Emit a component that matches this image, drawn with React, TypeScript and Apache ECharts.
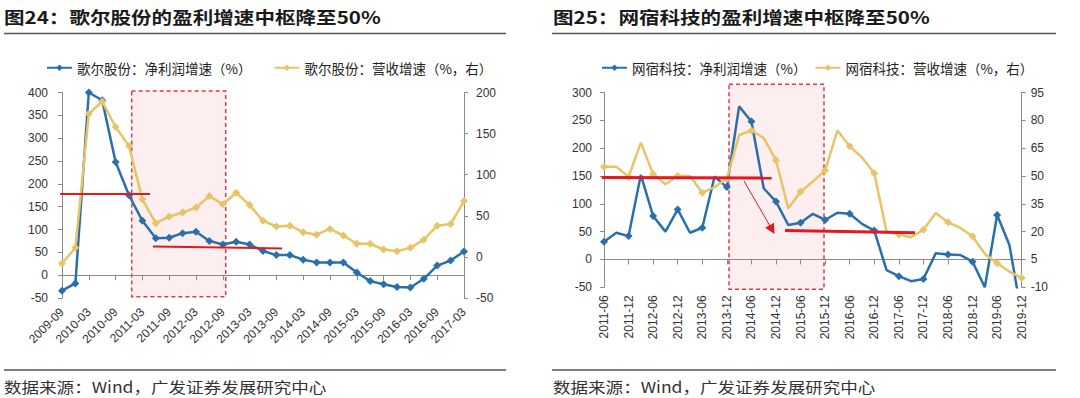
import React, { useEffect, useRef } from 'react';
import * as echarts from 'echarts';

// ---------- data ----------
const goerCategories = [
  '2009-09', '2009-12', '2010-03', '2010-06', '2010-09', '2010-12', '2011-03', '2011-06',
  '2011-09', '2011-12', '2012-03', '2012-06', '2012-09', '2012-12', '2013-03', '2013-06',
  '2013-09', '2013-12', '2014-03', '2014-06', '2014-09', '2014-12', '2015-03', '2015-06',
  '2015-09', '2015-12', '2016-03', '2016-06', '2016-09', '2016-12', '2017-03',
];
const goerProfitGrowth = [
  -34, -18, 400, 383, 248, 175, 119, 81, 82, 92, 95, 75, 67, 73, 67, 53,
  44, 44, 34, 28, 28, 28, 6, -13, -20, -26, -27, -8, 21, 32, 52,
];
const goerRevenueGrowth = [
  -8, 11, 174, 189, 158, 135, 70, 41, 49, 54, 60, 74, 64, 78, 63, 44,
  37, 38, 30, 27, 34, 26, 16, 16, 9, 7, 11, 21, 38, 40, 68,
];

const wangsuCategories = [
  '2011-06', '2011-09', '2011-12', '2012-03', '2012-06', '2012-09', '2012-12', '2013-03',
  '2013-06', '2013-09', '2013-12', '2014-03', '2014-06', '2014-09', '2014-12', '2015-03',
  '2015-06', '2015-09', '2015-12', '2016-03', '2016-06', '2016-09', '2016-12', '2017-03',
  '2017-06', '2017-09', '2017-12', '2018-03', '2018-06', '2018-09', '2018-12', '2019-03',
  '2019-06', '2019-09', '2019-12',
];
const wangsuProfitGrowth = [
  32, 48, 42, 152, 78, 50, 90, 48, 57, 149, 130, 275, 248, 128, 104, 62,
  66, 82, 71, 84, 82, 64, 52, -19, -30, -39, -35, 11, 9, 8, -4, -50,
  80, 26, -100,
];
const wangsuRevenueGrowth = [
  55, 55, 49.5, 68, 51, 45.5, 50, 50, 41, 44, 48.5, 72, 74.5, 70.5, 58.5, 32.5,
  41.5, 47, 53, 74.5, 66, 60, 51.5, 20, 18.5, 17, 21, 30, 25, 22, 17.5, 8,
  3, -1.5, -5,
];

const goerNames = ['歌尔股份：净利润增速（%）', '歌尔股份：营收增速（%，右）'];
const wangsuNames = ['网宿科技：净利润增速（%）', '网宿科技：营收增速（%，右）'];
const titles = ['图24：歌尔股份的盈利增速中枢降至50%', '图25：网宿科技的盈利增速中枢降至50%'];
const sourceText = '数据来源：Wind，广发证券发展研究中心';

// ---------- styles ----------
const BLUE = '#2a6fad';
const GOLD = '#e7c466';
const AXIS = '#8a8a8a';
const RED = '#e5181f';
const LATIN = '"Liberation Sans", Arial, sans-serif';
const CJK = '"Noto Sans CJK SC", "Liberation Sans", sans-serif';

const labelStyle = { color: '#333', fontSize: 12, fontFamily: LATIN };

function labelAxis(gridIndex: number, data: string[], rotate: number, margin: number) {
  return {
    type: 'category', gridIndex, data, boundaryGap: false, position: 'bottom',
    axisLine: { show: false, onZero: false },
    axisTick: { show: false },
    splitLine: { show: false },
    axisLabel: { ...labelStyle, interval: 1, rotate, margin },
  };
}
function zeroAxis(gridIndex: number, data: string[]) {
  return {
    type: 'category', gridIndex, data, boundaryGap: false, position: 'bottom',
    axisLine: { show: true, onZero: true, lineStyle: { color: AXIS, width: 1 } },
    axisTick: { show: true, interval: 1, length: 5, lineStyle: { color: AXIS } },
    axisLabel: { show: false },
    splitLine: { show: false },
  };
}
function valueAxis(gridIndex: number, position: string, min: number, max: number, interval: number, margin: number) {
  return {
    type: 'value', gridIndex, position, min, max, interval,
    axisLine: { show: true, onZero: false, lineStyle: { color: AXIS, width: 1 } },
    axisTick: { show: true, length: 4, lineStyle: { color: AXIS } },
    splitLine: { show: false },
    axisLabel: { ...labelStyle, margin },
  };
}
function lineSeries(name: string, data: number[], color: string, xAxisIndex: number, yAxisIndex: number) {
  return {
    name, type: 'line', data, xAxisIndex, yAxisIndex,
    symbol: 'diamond', symbolSize: 8, clip: true,
    lineStyle: { color, width: 2.5 },
    itemStyle: { color },
  };
}
function legend(names: string[], left: number, itemGap: number) {
  return {
    data: names, left, top: 56, itemWidth: 25, itemHeight: 8, itemGap,
    textStyle: { fontSize: 13.5, fontFamily: CJK, color: '#222' },
  };
}
function rule(x1: number, x2: number, y: number) {
  return { type: 'line', shape: { x1, y1: y, x2, y2: y }, style: { stroke: '#555', lineWidth: 1.5 } };
}
function redLine(x1: number, y1: number, x2: number, y2: number, w: number) {
  return { type: 'line', z: 100, shape: { x1, y1, x2, y2 }, style: { stroke: RED, lineWidth: w } };
}
function dashedBox(x: number, y: number, width: number, height: number) {
  return {
    type: 'rect', z: 0, shape: { x, y, width, height },
    style: { fill: 'rgba(248, 205, 212, 0.35)', stroke: '#e03a44', lineWidth: 1.5, lineDash: [4, 3] },
  };
}
function titleText(x: number, text: string) {
  return {
    type: 'text', x, y: 16, scaleX: 1.21,
    style: { text, fontSize: 17, fontWeight: 'bold', fontFamily: CJK, fill: '#1a1a1a', verticalAlign: 'middle', align: 'left' },
  };
}
function sourceLabel(x: number) {
  return {
    type: 'text', x, y: 387, scaleX: 1.17,
    style: { text: sourceText, fontSize: 15, fontFamily: CJK, fill: '#333', verticalAlign: 'middle', align: 'left' },
  };
}

export default function App() {
  const ref = useRef<HTMLDivElement>(null);
  useEffect(() => {
    document.body.style.margin = '0';
    const chart = echarts.init(ref.current as HTMLDivElement, null, { renderer: 'svg' });
    chart.setOption({
      animation: false,
      backgroundColor: '#ffffff',
      grid: [
        { left: 62, top: 92.5, width: 402, height: 205.5 },
        { left: 604, top: 92.5, width: 417.7, height: 194.8 },
      ],
      xAxis: [
        labelAxis(0, goerCategories, 45, 12),
        zeroAxis(0, goerCategories),
        labelAxis(1, wangsuCategories, 90, 8),
        zeroAxis(1, wangsuCategories),
      ],
      yAxis: [
        valueAxis(0, 'left', -50, 400, 50, 14),
        valueAxis(0, 'right', -50, 200, 50, 12),
        valueAxis(1, 'left', -50, 300, 50, 12),
        valueAxis(1, 'right', -10, 95, 15, 9),
      ],
      legend: [legend(goerNames, 41, 22), legend(wangsuNames, 596, 8)],
      series: [
        lineSeries(goerNames[0], goerProfitGrowth, BLUE, 0, 0),
        lineSeries(goerNames[1], goerRevenueGrowth, GOLD, 0, 1),
        lineSeries(wangsuNames[0], wangsuProfitGrowth, BLUE, 2, 2),
        lineSeries(wangsuNames[1], wangsuRevenueGrowth, GOLD, 2, 3),
      ],
      graphic: [
        titleText(4, titles[0]),
        titleText(553, titles[1]),
        rule(4, 506, 33.5),
        rule(552, 1056, 33.5),
        rule(4, 506, 370),
        rule(552, 1056, 370),
        sourceLabel(4),
        sourceLabel(553),
        dashedBox(131.7, 91, 94, 205.7),
        redLine(60, 194, 150, 194, 2),
        redLine(153, 246.5, 282, 248.5, 2),
        dashedBox(729, 84.3, 95, 205),
        redLine(601.7, 177.5, 771.7, 178, 3),
        redLine(744, 181, 770, 226, 1),
        { type: 'polygon', z: 100, shape: { points: [[774.5, 234], [765.2, 227.8], [774, 222.8]] }, style: { fill: RED } },
        redLine(785, 230.5, 915, 232.7, 3),
      ],
    });
    return () => chart.dispose();
  }, []);
  return <div ref={ref} style={{ width: 1080, height: 398 }} />;
}
